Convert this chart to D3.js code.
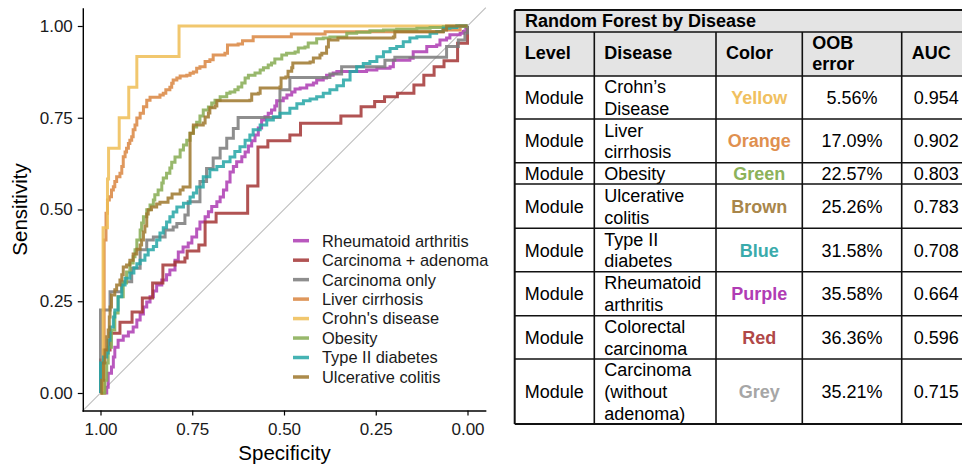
<!DOCTYPE html>
<html>
<head>
<meta charset="utf-8">
<script src="https://cdn.jsdelivr.net/npm/d3@7"></script>
<style>
  html, body { margin: 0; padding: 0; background: #fff; }
  svg { display: block; font-family: "Liberation Sans", Arial, Helvetica, sans-serif; }
</style>
</head>
<body>
<svg id="chart" width="962" height="469"></svg>
<script>
// ---------------- DATA ----------------
const seriesNames = ["Rheumatoid arthritis","Carcinoma + adenoma","Carcinoma only","Liver cirrhosis","Crohn's disease","Obesity","Type II diabetes","Ulcerative colitis"];

// ROC curves: [specificity, sensitivity]
const rocRheumatoid = [[1,0],[0.983,0.016],[0.979,0.054],[0.970,0.071],[0.965,0.098],[0.961,0.125],[0.952,0.144],[0.938,0.155],[0.924,0.166],[0.911,0.180],[0.901,0.199],[0.892,0.215],[0.883,0.234],[0.874,0.248],[0.865,0.262],[0.856,0.278],[0.847,0.294],[0.833,0.308],[0.820,0.322],[0.811,0.335],[0.797,0.362],[0.788,0.384],[0.775,0.398],[0.761,0.409],[0.751,0.425],[0.738,0.447],[0.729,0.466],[0.715,0.480],[0.706,0.494],[0.697,0.508],[0.683,0.521],[0.674,0.534],[0.665,0.553],[0.656,0.575],[0.647,0.602],[0.638,0.617],[0.629,0.630],[0.615,0.644],[0.606,0.657],[0.597,0.673],[0.588,0.687],[0.579,0.703],[0.570,0.722],[0.561,0.744],[0.552,0.753],[0.543,0.762],[0.534,0.771],[0.525,0.782],[0.520,0.796],[0.502,0.804],[0.492,0.812],[0.479,0.820],[0.470,0.828],[0.456,0.831],[0.438,0.839],[0.420,0.845],[0.411,0.853],[0.393,0.858],[0.384,0.866],[0.366,0.872],[0.356,0.876],[0.275,0.880],[0.247,0.885],[0.211,0.889],[0.202,0.907],[0.157,0.912],[0.148,0.930],[0.111,0.944],[0.084,0.948],[0.075,0.962],[0.057,0.967],[0.048,0.976],[0.020,0.980],[0.011,0.985],[0.004,1],[0,1]];
const rocCarcAdenoma = [[1,0],[1,0.09],[0.992,0.117],[0.974,0.163],[0.947,0.193],[0.914,0.221],[0.886,0.259],[0.858,0.300],[0.830,0.349],[0.797,0.357],[0.770,0.368],[0.764,0.387],[0.732,0.403],[0.715,0.466],[0.685,0.490],[0.599,0.564],[0.571,0.670],[0.544,0.687],[0.484,0.703],[0.455,0.735],[0.345,0.755],[0.290,0.780],[0.253,0.794],[0.226,0.807],[0.191,0.817],[0.146,0.839],[0.119,0.866],[0.091,0.889],[0.064,0.905],[0.027,0.953],[0,1]];
const rocCarcOnly = [[1,0],[1,0.226],[0.974,0.276],[0.942,0.303],[0.915,0.340],[0.892,0.390],[0.874,0.417],[0.856,0.425],[0.824,0.444],[0.802,0.452],[0.792,0.462],[0.770,0.485],[0.761,0.521],[0.729,0.576],[0.711,0.612],[0.693,0.640],[0.674,0.667],[0.656,0.694],[0.638,0.721],[0.625,0.751],[0.511,0.826],[0.484,0.860],[0.375,0.869],[0.343,0.889],[0.225,0.907],[0.198,0.915],[0.057,0.944],[0.025,0.962],[0.007,0.981],[0,1]];
const rocLiver = [[1,0],[0.990,0.417],[0.985,0.49],[0.981,0.526],[0.976,0.535],[0.970,0.553],[0.965,0.562],[0.961,0.576],[0.956,0.589],[0.947,0.599],[0.942,0.617],[0.938,0.644],[0.933,0.657],[0.929,0.667],[0.924,0.680],[0.920,0.689],[0.915,0.698],[0.911,0.717],[0.906,0.730],[0.901,0.749],[0.892,0.762],[0.883,0.780],[0.874,0.798],[0.865,0.806],[0.838,0.812],[0.829,0.817],[0.822,0.826],[0.811,0.833],[0.806,0.844],[0.802,0.853],[0.792,0.858],[0.783,0.864],[0.765,0.866],[0.756,0.871],[0.747,0.875],[0.738,0.885],[0.729,0.889],[0.715,0.903],[0.702,0.908],[0.693,0.921],[0.661,0.926],[0.654,0.948],[0.625,0.951],[0.613,0.96],[0.584,0.971],[0.480,0.978],[0.388,0.984],[0.067,0.989],[0.02,1],[0,1]];
const rocCrohn = [[1,0],[0.993,0.45],[0.981,0.583],[0.978,0.667],[0.949,0.75],[0.923,0.833],[0.901,0.917],[0.786,1],[0,1]];
const rocObesity = [[1,0],[0.992,0],[0.988,0.035],[0.983,0.082],[0.979,0.125],[0.970,0.172],[0.961,0.218],[0.952,0.262],[0.938,0.300],[0.929,0.330],[0.920,0.354],[0.911,0.371],[0.906,0.390],[0.901,0.417],[0.892,0.444],[0.888,0.463],[0.883,0.480],[0.874,0.499],[0.865,0.512],[0.856,0.526],[0.852,0.540],[0.843,0.553],[0.833,0.572],[0.829,0.586],[0.820,0.599],[0.811,0.613],[0.806,0.629],[0.797,0.643],[0.783,0.662],[0.774,0.676],[0.765,0.689],[0.756,0.708],[0.747,0.725],[0.738,0.738],[0.729,0.755],[0.720,0.771],[0.706,0.779],[0.697,0.790],[0.688,0.798],[0.674,0.807],[0.656,0.817],[0.647,0.820],[0.634,0.826],[0.625,0.834],[0.615,0.845],[0.606,0.858],[0.597,0.866],[0.579,0.872],[0.565,0.880],[0.556,0.886],[0.543,0.894],[0.534,0.899],[0.525,0.910],[0.506,0.921],[0.493,0.926],[0.470,0.929],[0.461,0.940],[0.443,0.943],[0.434,0.954],[0.411,0.965],[0.393,0.967],[0.375,0.970],[0.329,0.980],[0.302,0.983],[0.266,0.987],[0.229,0.989],[0.193,0.991],[0.138,0.994],[0.102,0.996],[0.066,0.998],[0.029,1],[0,1]];
const rocDiabetes = [[1,0],[1,0.082],[0.992,0.098],[0.983,0.109],[0.979,0.144],[0.974,0.180],[0.965,0.207],[0.961,0.226],[0.952,0.262],[0.942,0.294],[0.933,0.313],[0.920,0.327],[0.909,0.341],[0.901,0.352],[0.892,0.362],[0.879,0.376],[0.870,0.390],[0.856,0.399],[0.847,0.417],[0.838,0.436],[0.829,0.450],[0.820,0.466],[0.811,0.480],[0.802,0.493],[0.792,0.507],[0.774,0.517],[0.756,0.534],[0.747,0.545],[0.738,0.561],[0.720,0.589],[0.702,0.608],[0.683,0.617],[0.665,0.630],[0.647,0.643],[0.634,0.658],[0.620,0.671],[0.606,0.689],[0.593,0.703],[0.584,0.717],[0.565,0.730],[0.547,0.744],[0.529,0.753],[0.511,0.762],[0.484,0.776],[0.465,0.788],[0.447,0.796],[0.429,0.801],[0.411,0.807],[0.393,0.817],[0.375,0.826],[0.356,0.837],[0.338,0.853],[0.320,0.876],[0.302,0.889],[0.284,0.898],[0.266,0.903],[0.247,0.916],[0.229,0.930],[0.211,0.939],[0.193,0.944],[0.175,0.957],[0.157,0.967],[0.138,0.971],[0.102,0.980],[0.084,0.985],[0.066,0.994],[0.048,0.996],[0.029,1],[0,1]];
const rocColitis = [[1,0],[0.997,0.035],[0.992,0.082],[0.988,0.117],[0.983,0.153],[0.979,0.172],[0.976,0.207],[0.974,0.234],[0.970,0.267],[0.961,0.281],[0.956,0.294],[0.947,0.308],[0.942,0.322],[0.938,0.343],[0.929,0.349],[0.920,0.362],[0.911,0.379],[0.901,0.392],[0.892,0.403],[0.888,0.417],[0.883,0.439],[0.879,0.455],[0.874,0.488],[0.870,0.499],[0.861,0.507],[0.847,0.515],[0.838,0.520],[0.816,0.531],[0.805,0.542],[0.783,0.553],[0.775,0.561],[0.756,0.708],[0.747,0.730],[0.720,0.736],[0.715,0.752],[0.706,0.763],[0.702,0.777],[0.688,0.782],[0.683,0.796],[0.593,0.798],[0.588,0.815],[0.570,0.817],[0.565,0.831],[0.511,0.834],[0.508,0.858],[0.495,0.861],[0.489,0.877],[0.479,0.886],[0.476,0.899],[0.429,0.902],[0.420,0.913],[0.402,0.921],[0.397,0.926],[0.384,0.943],[0.379,0.962],[0.353,0.967],[0.202,0.970],[0.198,0.984],[0.066,0.989],[0.057,1],[0,1]];

const xTicks = [1.00, 0.75, 0.50, 0.25, 0.00];
const yTicks = [0.00, 0.25, 0.50, 0.75, 1.00];

// Table
const tableTitle = "Random Forest by Disease";
const tableHeaders = [["Level"],["Disease"],["Color"],["OOB","error"],["AUC"]];
const tableLevel = ["Module","Module","Module","Module","Module","Module","Module","Module"];
const tableDisease = [["Crohn\u2019s","Disease"],["Liver","cirrhosis"],["Obesity"],["Ulcerative","colitis"],["Type II","diabetes"],["Rheumatoid","arthritis"],["Colorectal","carcinoma"],["Carcinoma","(without","adenoma)"]];
const tableColorName = ["Yellow","Orange","Green","Brown","Blue","Purple","Red","Grey"];
const tableOOB = ["5.56%","17.09%","22.57%","25.26%","31.58%","35.58%","36.36%","35.21%"];
const tableAUC = ["0.954","0.902","0.803","0.783","0.708","0.664","0.596","0.715"];

// ---------------- STYLE ----------------
const seriesData = [rocRheumatoid, rocCarcAdenoma, rocCarcOnly, rocLiver, rocCrohn, rocObesity, rocDiabetes, rocColitis];
const seriesColors = ["#ad3bb3","#a33535","#7a7a7a","#d9853f","#efbd55","#86ab52","#25a6a6","#9e772b"];
const tableWordColors = ["#f0c060","#e0904f","#8cb25a","#a8864a","#3aabab","#b03cb4","#b04848","#a6a6a6"];

const svg = d3.select("#chart");
const font = '"Liberation Sans", Arial, Helvetica, sans-serif';

// ---------------- ROC CHART ----------------
const x = d3.scaleLinear().domain([1.05, -0.05]).range([82.15, 485.85]);
const y = d3.scaleLinear().domain([-0.05, 1.05]).range([411.35, 7.65]);

// diagonal reference
svg.append("line")
  .attr("x1", x(1.05)).attr("y1", y(-0.05))
  .attr("x2", x(-0.05)).attr("y2", y(1.05))
  .attr("stroke", "#bdbdbd").attr("stroke-width", 1.1);

const line = d3.line().x(d => x(d[0])).y(d => y(d[1])).curve(d3.curveStepAfter);

const gLines = svg.append("g");
seriesData.forEach((data, i) => {
  gLines.append("path")
    .attr("d", line(data))
    .attr("fill", "none")
    .attr("stroke", seriesColors[i])
    .attr("stroke-opacity", 0.85)
    .attr("stroke-width", 3);
});

// axes
const xAxis = svg.append("g").attr("transform", "translate(0,410.5)")
  .call(d3.axisBottom(x).tickValues(xTicks).tickFormat(d3.format(".2f")).tickSize(5).tickSizeOuter(0).tickPadding(7));
const yAxis = svg.append("g").attr("transform", "translate(82.8,0)")
  .call(d3.axisLeft(y).tickValues(yTicks).tickFormat(d3.format(".2f")).tickSize(5).tickSizeOuter(0).tickPadding(5));
[xAxis, yAxis].forEach(g => {
  g.select(".domain").attr("stroke", "#000").attr("stroke-width", 1.4);
  g.selectAll(".tick line").attr("stroke", "#000").attr("stroke-width", 1.2);
  g.selectAll(".tick text").attr("fill", "#1a1a1a").style("font-size", "17px").style("font-family", font);
});

svg.append("text")
  .attr("x", 284.5).attr("y", 460)
  .attr("text-anchor", "middle")
  .style("font-size", "20.5px").attr("fill", "#000")
  .text("Specificity");
svg.append("text")
  .attr("transform", "translate(27,209.5) rotate(-90)")
  .attr("text-anchor", "middle")
  .style("font-size", "20.5px").attr("fill", "#000")
  .text("Sensitivity");

// legend
const legend = svg.append("g");
seriesNames.forEach((name, i) => {
  const cy = 240.7 + i * 19.47;
  legend.append("line")
    .attr("x1", 293).attr("x2", 309).attr("y1", cy).attr("y2", cy)
    .attr("stroke", seriesColors[i]).attr("stroke-opacity", 0.85).attr("stroke-width", 3.5);
  legend.append("text")
    .attr("x", 322).attr("y", cy).attr("dy", "0.36em")
    .style("font-size", "16.4px").attr("fill", "#1a1a1a")
    .text(name);
});

// ---------------- TABLE ----------------
const colEdges = [514.7, 594.3, 716, 802.3, 901.7, 980];
const rowEdges = [10, 32, 76, 119, 162.7, 184, 228.3, 271.7, 315.7, 359, 424];
const tbl = svg.append("g");
const lineH = 21.7;

// backgrounds
tbl.append("rect").attr("x", colEdges[0]).attr("y", rowEdges[0])
  .attr("width", colEdges[5] - colEdges[0]).attr("height", rowEdges[2] - rowEdges[0])
  .attr("fill", "#e4e4e4");

// title
tbl.append("text").attr("x", 525).attr("y", 27)
  .style("font-size", "18px").style("font-weight", "bold").attr("fill", "#000")
  .text(tableTitle);

function multiline(xPos, yTop, yBot, lines, anchor, opts) {
  const cy = (yTop + yBot) / 2;
  const n = lines.length;
  lines.forEach((s, k) => {
    tbl.append("text")
      .attr("x", xPos)
      .attr("y", cy + (opts.off || 6.5) + (k - (n - 1) / 2) * opts.lh)
      .attr("text-anchor", anchor)
      .style("font-size", opts.size + "px")
      .style("font-weight", opts.bold ? "bold" : "normal")
      .attr("fill", opts.color || "#000")
      .text(s);
  });
}

// header
tableHeaders.forEach((h, c) => {
  multiline(colEdges[c] + 10, rowEdges[1], rowEdges[2], h, "start", {size: 18, bold: true, lh: 20.6, off: 5.2});
});

// body
for (let r = 0; r < tableLevel.length; r++) {
  const top = rowEdges[r + 2], bot = rowEdges[r + 3];
  multiline(colEdges[0] + 10, top, bot, [tableLevel[r]], "start", {size: 18, lh: lineH});
  multiline(colEdges[1] + 10, top, bot, tableDisease[r], "start", {size: 18, lh: lineH});
  multiline((colEdges[2] + colEdges[3]) / 2, top, bot, [tableColorName[r]], "middle", {size: 18, bold: true, lh: lineH, color: tableWordColors[r]});
  multiline((colEdges[3] + colEdges[4]) / 2, top, bot, [tableOOB[r]], "middle", {size: 18, lh: lineH});
  multiline(colEdges[4] + 12, top, bot, [tableAUC[r]], "start", {size: 18, lh: lineH});
}

// grid lines
rowEdges.forEach((yy, i) => {
  tbl.append("line").attr("x1", colEdges[0]).attr("x2", colEdges[5])
    .attr("y1", yy).attr("y2", yy)
    .attr("stroke", "#111").attr("stroke-width", (i === 0 || i === rowEdges.length - 1) ? 2 : 1.6);
});
colEdges.forEach((xx, i) => {
  tbl.append("line").attr("x1", xx).attr("x2", xx)
    .attr("y1", i === 0 ? rowEdges[0] : rowEdges[1]).attr("y2", rowEdges[rowEdges.length - 1])
    .attr("stroke", "#111").attr("stroke-width", i === 0 ? 2 : 1.6);
});
</script>
</body>
</html>
